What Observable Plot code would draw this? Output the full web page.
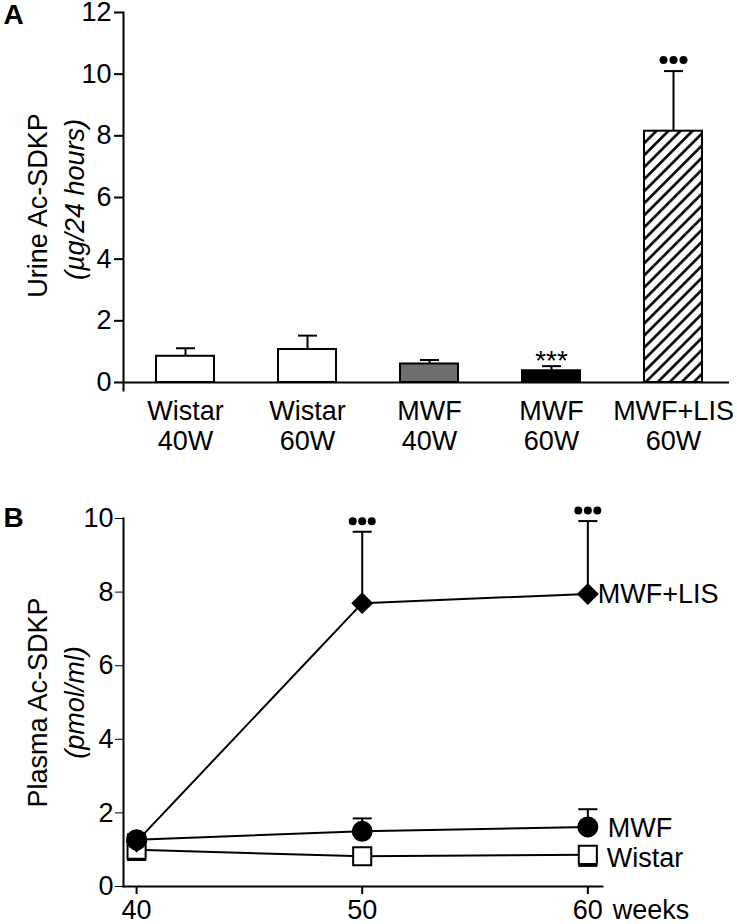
<!DOCTYPE html>
<html><head><meta charset="utf-8">
<script src="https://cdn.jsdelivr.net/npm/d3@7"></script>
<script src="https://cdn.jsdelivr.net/npm/@observablehq/plot@0.6"></script>
<style>
body{margin:0;background:#fff;}
#wrap{width:737px;height:924px;}
#wrap svg{display:block;}
</style></head><body><div id="wrap"></div>
<script>
// ---- Panel A data ----
const groups = ["Wistar\n40W", "Wistar\n60W", "MWF\n40W", "MWF\n60W", "MWF+LIS\n60W"];
const urineMean = [0.85, 1.07, 0.60, 0.38, 8.15];
const urineSEM = [0.26, 0.45, 0.13, 0.15, 1.95];
const urineFill = ["white", "white", "#6f6f6f", "black", "url(#hatch)"];
const yTicksA = [0, 2, 4, 6, 8, 10, 12];

// ---- Panel B data ----
const weeks = [40, 50, 60];
const wistar = [1.0, 0.82, 0.86];
const wistarSEM = [0.28, 0.15, 0.30];   // drawn downward
const mwf = [1.27, 1.50, 1.62];
const mwfSEM = [0.15, 0.35, 0.48];
const lis = [1.22, 7.70, 7.95];
const lisSEM = [0.15, 1.94, 1.98];
const yTicksB = [0, 2, 4, 6, 8, 10];

const font = "'Liberation Sans', Arial, Helvetica, sans-serif";
const cap = {draw(ctx, size) { const w = Math.sqrt(size / Math.PI); ctx.moveTo(-w, 0); ctx.lineTo(w, 0); }};

const rowsA = groups.map((g, i) => ({g, v: urineMean[i], top: urineMean[i] + urineSEM[i], fill: urineFill[i]}));

const chartA = Plot.plot({
  width: 737, height: 465,
  marginTop: 12, marginLeft: 123, marginRight: 8, marginBottom: 75,
  style: {fontFamily: font, fontSize: "26px", color: "black", background: "white", overflow: "visible"},
  x: {domain: groups, paddingInner: 0.527, paddingOuter: 0.233, align: 0.55, label: null},
  y: {domain: [-0.26, 12], label: null},
  color: {type: "identity"},
  marks: [
    Plot.axisY({ticks: yTicksA, tickSize: 9, tickPadding: 3, strokeWidth: 2, fontSize: 27, label: null}),
    Plot.axisX({tickSize: 0, tickPadding: 8, fontSize: 27, lineHeight: 1.11, label: null}),
    Plot.ruleX(rowsA, {x: "g", y1: "v", y2: "top", stroke: "black", strokeWidth: 2}),
    Plot.dot(rowsA, {x: "g", y: "top", symbol: cap, r: 9.5, stroke: "black", strokeWidth: 2, fill: "none"}),
    Plot.barY(rowsA, {x: "g", y: "v", fill: "fill", stroke: "black", strokeWidth: 2}),
    Plot.ruleY([0], {stroke: "black", strokeWidth: 2}),
    Plot.frame({anchor: "left", stroke: "black", strokeWidth: 2}),
    Plot.text(rowsA.filter((d, i) => i === 3), {x: "g", y: "top", text: () => "***", fontSize: 28, lineAnchor: "bottom", dy: 4}),
    ...[-10, 0, 10].map(dx => Plot.dot(rowsA.filter((d, i) => i === 4), {x: "g", y: "top", r: 4, fill: "black", dx, dy: -11})),
    Plot.text(["Urine Ac-SDKP"], {text: d => d, frameAnchor: "left", textAnchor: "middle", rotate: -90, dx: -85, dy: 4, fontSize: 27}),
    Plot.text(["(µg/24 hours)"], {text: d => d, frameAnchor: "left", textAnchor: "middle", rotate: -90, dx: -48, dy: -2, fontSize: 27, fontStyle: "italic"}),
    Plot.text(["A"], {text: d => d, frameAnchor: "top-left", textAnchor: "start", lineAnchor: "top", dx: -120, dy: -8, fontSize: 28, fontWeight: "bold"})
  ]
});
const defs = document.createElementNS("http://www.w3.org/2000/svg", "defs");
defs.innerHTML = '<pattern id="hatch" patternUnits="userSpaceOnUse" width="8.5" height="8.5" patternTransform="rotate(45)"><rect width="8.5" height="8.5" fill="white"/><line x1="4.25" y1="-1" x2="4.25" y2="9.5" stroke="black" stroke-width="2.6"/></pattern>';
chartA.prepend(defs);

// ---- Panel B ----
const series = [
  {name: "Wistar", vals: wistar, sem: wistarSEM, dir: -1, symbol: "square", r: 10.2, fill: "white", ldx: 19, ldy: 4},
  {name: "MWF", vals: mwf, sem: mwfSEM, dir: 1, symbol: "circle", r: 9.5, fill: "black", ldx: 20, ldy: 1},
  {name: "MWF+LIS", vals: lis, sem: lisSEM, dir: 1, symbol: "diamond2", r: 8.6, fill: "black", ldx: 10, ldy: 0}
];
const rowsB = series.map(s => weeks.map((w, i) => ({s: s.name, w, v: s.vals[i], e: s.vals[i] + s.dir * s.sem[i]})));

const marksB = [
  Plot.axisY({ticks: yTicksB, tickSize: 8, tickPadding: 2, fontSize: 27, label: null}),
  Plot.axisX({ticks: weeks, tickSize: 8, tickPadding: 5, fontSize: 27, strokeWidth: 2, label: null}),
  Plot.frame({anchor: "left", stroke: "black", strokeWidth: 2}),
  Plot.frame({anchor: "bottom", stroke: "black", strokeWidth: 2})
];
series.forEach((s, k) => {
  marksB.push(Plot.line(rowsB[k], {x: "w", y: "v", stroke: "black", strokeWidth: 2}));
});
series.forEach((s, k) => {
  marksB.push(Plot.ruleX(rowsB[k], {x: "w", y1: "v", y2: "e", stroke: "black", strokeWidth: 2}));
  marksB.push(Plot.dot(rowsB[k], {x: "w", y: "e", symbol: cap, r: 9.5, stroke: "black", strokeWidth: 2, fill: "none"}));
});
series.forEach((s, k) => {
  marksB.push(Plot.dot(rowsB[k], {x: "w", y: "v", symbol: s.symbol, r: s.r, fill: s.fill, stroke: "black", strokeWidth: 2}));
  marksB.push(Plot.text(rowsB[k].filter(d => d.w === 60), {x: "w", y: "v", text: () => s.name, textAnchor: "start", dx: s.ldx, dy: s.ldy, fontSize: 27}));
});
const sigB = rowsB[2].filter(d => d.w !== 40);
[-9.5, 0, 9.5].forEach(dx => marksB.push(Plot.dot(sigB, {x: "w", y: "e", r: 4, fill: "black", dx, dy: -10.5})));
marksB.push(Plot.text([60], {x: d => d, frameAnchor: "bottom", text: () => "weeks", textAnchor: "start", lineAnchor: "top", dx: 25, dy: 13, fontSize: 27}));
marksB.push(Plot.text(["Plasma Ac-SDKP"], {text: d => d, frameAnchor: "left", textAnchor: "middle", rotate: -90, dx: -85, dy: 0, fontSize: 27}));
marksB.push(Plot.text(["(pmol/ml)"], {text: d => d, frameAnchor: "left", textAnchor: "middle", rotate: -90, dx: -48, dy: 0, fontSize: 27, fontStyle: "italic"}));
marksB.push(Plot.text(["B"], {text: d => d, frameAnchor: "top-left", textAnchor: "start", lineAnchor: "top", dx: -120, dy: -11, fontSize: 28, fontWeight: "bold"}));

const chartB = Plot.plot({
  width: 737, height: 459,
  marginTop: 53, marginLeft: 123, marginRight: 135, marginBottom: 38,
  style: {fontFamily: font, fontSize: "26px", color: "black", background: "white", overflow: "visible"},
  x: {domain: [39.42, 60.65], label: null},
  y: {domain: [0, 10], label: null},
  marks: marksB
});

document.getElementById("wrap").append(chartA, chartB);
</script>
</body></html>
